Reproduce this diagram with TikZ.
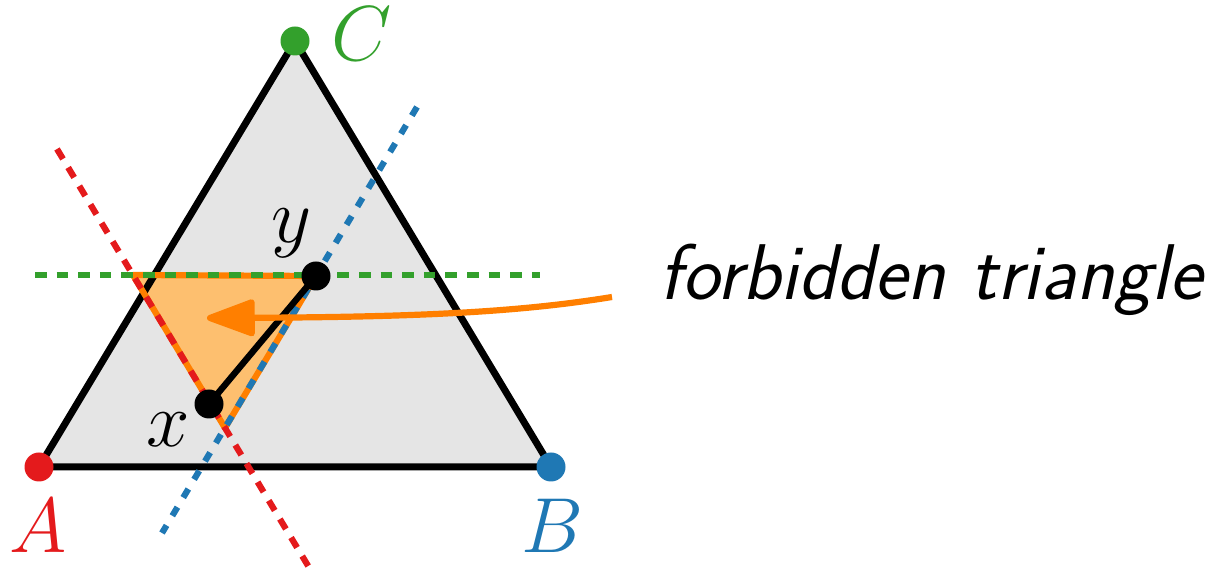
\RequirePackage{fix-cm}
\documentclass[tikz,border=0pt]{standalone}
\usepackage{fontspec}
\usetikzlibrary{arrows.meta}
\definecolor{cred}{HTML}{E41A1C}
\definecolor{cblue}{HTML}{1F78B4}
\definecolor{cgreen}{HTML}{33A02C}
\definecolor{corange}{HTML}{FF7F00}
\definecolor{clorange}{HTML}{FDBF6F}
\definecolor{cgray}{HTML}{E5E5E5}
\begin{document}
\begin{tikzpicture}[x=0.5pt,y=-0.5pt,
  dot/.style={circle,inner sep=0pt,minimum size=14.5pt},
  lbl/.style={anchor=base,inner sep=0pt,font=\fontsize{39}{41}\selectfont},
  dashline/.style={line width=3.1pt,dash pattern=on 5.8pt off 5pt},
  dotline/.style={line width=3.1pt,dash pattern=on 5pt off 5.6pt},
  edge/.style={line width=3.5pt,line join=round}]
\useasboundingbox (0,0) rectangle (1216,576);
\coordinate (A) at (39,467);
\coordinate (B) at (551,467);
\coordinate (C) at (295,41);
\coordinate (X) at (209,404);
\coordinate (Y) at (316,276);
\coordinate (P) at (133,275);
\coordinate (Q) at (225,428);
\coordinate (G1) at (35,275);
\coordinate (G2) at (540,275);
\coordinate (R1) at (57,149);
\coordinate (R2) at (313,574);
\coordinate (B1) at (417,107);
\coordinate (B2) at (162,533);
% big triangle
\fill[cgray] (A)--(B)--(C)--cycle;
\fill[clorange] (P)--(Y)--(Q)--cycle;
\draw[edge] (A)--(B)--(C)--cycle;
% forbidden triangle edges
\draw[corange,line width=3.1pt,line join=round] (P)--(Y)--(Q)--cycle;
% dashed lines
\draw[cgreen,dashline] (G1)--(G2);
\draw[cred,dashline] (R1)--(R2);
\draw[cblue,dotline] (B1)--(B2);
% segment xy
\draw[line width=3.2pt] (X)--(Y);
% dots
\node[dot,fill=cred] (a) at (A) {};
\node[dot,fill=cblue] (b) at (B) {};
\node[dot,fill=cgreen] (c) at (C) {};
\node[dot,fill=black] (x) at (X) {};
\node[dot,fill=black] (y) at (Y) {};
% labels
\node[lbl,text=cred] (la) at (38,553) {$A$};
\node[lbl,text=cblue] (lb) at (552,553) {$B$};
\node[lbl,text=cgreen] (lc) at (362,61) {$C$};
\node[lbl] (lx) at (168,447) {$x$};
\node[lbl] (ly) at (292,243) {$y$};
\node[lbl,anchor=base west,font=\fontsize{39.5}{41}\selectfont\sffamily\itshape] (ft) at (659,300) {forbidden triangle};
% arrow
\coordinate (S) at (612,297);
\coordinate (T) at (207,318);
\draw[corange,line width=3.1pt,-{Triangle[length=27pt,width=19pt,round]}] (S) .. controls (520,312) and (420,317) .. (T);
\end{tikzpicture}
\end{document}
